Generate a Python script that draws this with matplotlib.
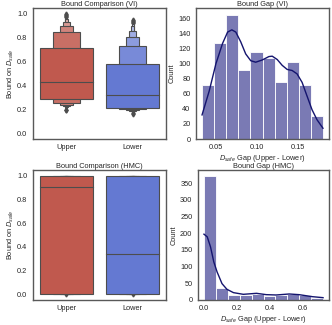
import numpy as np
import matplotlib
matplotlib.use("Agg")
import matplotlib.pyplot as plt
from matplotlib.colors import to_rgb

# ---- data ----
groups = ['Upper', 'Lower']

# letter-value boxes, innermost (25-75%) first
vi_upper_lo = [0.284, 0.252, 0.236, 0.226, 0.218, 0.212]
vi_upper_hi = [0.714, 0.846, 0.896, 0.932, 0.955, 0.968]
vi_upper_med = 0.425
vi_upper_out = [0.975, 0.985, 0.992, 1.0, 0.195, 0.19]

vi_lower_lo = [0.214, 0.198, 0.190, 0.185, 0.181, 0.178]
vi_lower_hi = [0.579, 0.728, 0.804, 0.858, 0.895, 0.915]
vi_lower_med = 0.32
vi_lower_out = [0.925, 0.935, 0.945, 0.95, 0.165, 0.16]

hmc_upper_lo = [0.0, 0.0, 0.0, 0.0, 0.0, 0.0]
hmc_upper_hi = [1.0, 1.0, 1.0, 1.0, 1.0, 1.0]
hmc_upper_med = 0.907
hmc_upper_out = [0.0]

hmc_lower_lo = [0.0, 0.0, 0.0, 0.0, 0.0, 0.0]
hmc_lower_hi = [0.997, 1.0, 1.0, 1.0, 1.0, 1.0]
hmc_lower_med = 0.34
hmc_lower_out = [0.0]

# gap histograms
vi_gap_edges = np.linspace(0.0325, 0.1815, 11)
vi_gap_counts = [72, 128, 165, 91, 115, 107, 76, 102, 72, 30]
vi_kde_x = [0.0325, 0.0414, 0.0496, 0.0578, 0.064, 0.0692, 0.0741, 0.0802, 0.0863,
            0.0925, 0.0986, 0.1068, 0.1149, 0.119, 0.1251, 0.1313, 0.1374, 0.1435,
            0.1496, 0.1558, 0.1619, 0.168, 0.1741, 0.1815]
vi_kde_y = [32, 64, 100, 127, 142, 145, 142, 129, 113, 104, 102, 105, 109.5, 110,
            105.6, 97.8, 92.4, 91, 86.5, 75.2, 57, 39, 25.7, 14.3]

hmc_gap_edges = np.linspace(0.0, 0.726, 11)
hmc_gap_counts = [370, 35, 15, 14, 19, 13, 14, 17, 14, 7]
hmc_kde_x = [0.0, 0.02, 0.04, 0.06, 0.08, 0.11, 0.14, 0.18, 0.24, 0.32, 0.38, 0.44,
             0.52, 0.58, 0.66, 0.726]
hmc_kde_y = [197, 189, 159, 114, 84, 49, 32, 22, 17, 20, 16, 15, 18, 16, 10, 7]

red = '#c0594e'
blue = '#6479d2'
bar_color = '#7a7ab4'
kde_color = '#14146e'
fs = 5.3

plt.rcParams['font.family'] = ['Liberation Sans', 'DejaVu Sans']
plt.rcParams['mathtext.fontset'] = 'custom'
plt.rcParams['mathtext.it'] = 'Liberation Sans:italic'
plt.rcParams['mathtext.rm'] = 'Liberation Sans'
plt.rcParams['font.size'] = fs
plt.rcParams['axes.edgecolor'] = '0.35'
plt.rcParams['text.color'] = '0.15'
plt.rcParams['axes.labelcolor'] = '0.15'
plt.rcParams['xtick.color'] = '0.15'
plt.rcParams['ytick.color'] = '0.15'


def lighten(c, f):
    c = np.array(to_rgb(c))
    return tuple(c + (1 - c) * f)


def boxen(ax, pos, lo, hi, med, out, color):
    n = len(lo)
    # outer levels first so the inner boxes sit on top
    for i in range(n - 1, -1, -1):
        w = 0.8 * 0.5 ** i
        ax.bar(pos, hi[i] - lo[i], bottom=lo[i], width=w,
               color=lighten(color, min(0.13 * i, 0.7)),
               edgecolor='0.3', linewidth=0.8, zorder=2 + (n - i) * 0.01)
    ax.plot([pos - 0.4, pos + 0.4], [med, med], color='0.3', lw=0.8, zorder=3)
    ax.plot([pos] * len(out), out, 'd', color='0.3', ms=2.5, zorder=1.5)


def boxen_panel(ax, title, data):
    for pos, (lo, hi, med, out, col) in enumerate(data):
        boxen(ax, pos, lo, hi, med, out, col)
    ax.set_xlim(-0.5, 1.5)
    ax.set_ylim(-0.05, 1.05)
    ax.set_xticks([0, 1])
    ax.set_xticklabels(groups)
    ax.set_yticks(np.arange(0, 1.01, 0.2))
    ax.set_ylabel('Bound on $D_{safe}$', fontsize=fs, labelpad=1)
    ax.set_title(title, fontsize=fs, pad=1)


def gap_panel(ax, title, edges, counts, kx, ky):
    ax.bar(edges[:-1], counts, width=np.diff(edges), align='edge',
           color=bar_color, edgecolor='white', linewidth=0.6)
    ax.plot(kx, ky, color=kde_color, lw=1.0)
    ax.set_ylabel('Count', fontsize=fs, labelpad=1.5)
    ax.set_xlabel('$D_{safe}$ Gap (Upper - Lower)', fontsize=fs, labelpad=1.5)
    ax.set_title(title, fontsize=fs, pad=1)
    ax.margins(x=0.05, y=0.05)
    ax.set_ylim(bottom=0)


fig = plt.figure(figsize=(3.32, 3.25), dpi=100)
ax1 = fig.add_axes([33 / 332, 1 - 139 / 325, 133 / 332, 131 / 325])
ax2 = fig.add_axes([196 / 332, 1 - 139 / 325, 133 / 332, 131 / 325])
ax3 = fig.add_axes([33 / 332, 1 - 300 / 325, 133 / 332, 130 / 325])
ax4 = fig.add_axes([198 / 332, 1 - 300 / 325, 131 / 332, 130 / 325])

boxen_panel(ax1, 'Bound Comparison (VI)',
            [(vi_upper_lo, vi_upper_hi, vi_upper_med, vi_upper_out, red),
             (vi_lower_lo, vi_lower_hi, vi_lower_med, vi_lower_out, blue)])
boxen_panel(ax3, 'Bound Comparison (HMC)',
            [(hmc_upper_lo, hmc_upper_hi, hmc_upper_med, hmc_upper_out, red),
             (hmc_lower_lo, hmc_lower_hi, hmc_lower_med, hmc_lower_out, blue)])

gap_panel(ax2, 'Bound Gap (VI)', vi_gap_edges, vi_gap_counts, vi_kde_x, vi_kde_y)
ax2.set_xticks([0.05, 0.10, 0.15])
ax2.set_xticklabels(['0.05', '0.10', '0.15'])
ax2.set_yticks(range(0, 161, 20))
ax2.set_ylim(0, 174)

gap_panel(ax4, 'Bound Gap (HMC)', hmc_gap_edges, hmc_gap_counts, hmc_kde_x, hmc_kde_y)
ax4.set_xticks([0.0, 0.2, 0.4, 0.6])
ax4.set_yticks(range(0, 351, 50))
ax4.set_ylim(0, 389)

for ax in (ax1, ax2, ax3, ax4):
    ax.tick_params(length=0, labelsize=fs)
    ax.tick_params(axis='y', pad=4)
    ax.tick_params(axis='x', pad=3.5)
    for s in ax.spines.values():
        s.set_linewidth(1.0)

fig.savefig('out.png', dpi=100)
